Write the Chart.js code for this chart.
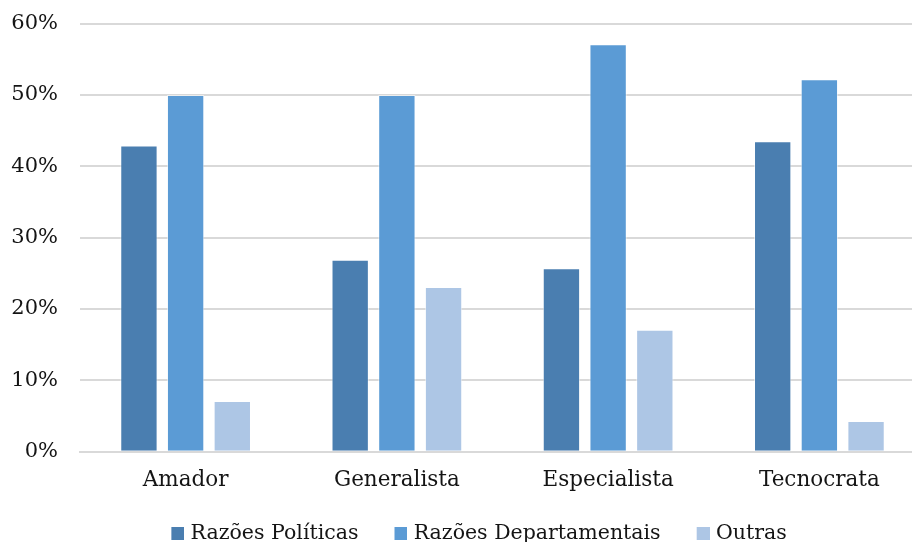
<!DOCTYPE html>
<html>
<head>
<meta charset="utf-8">
<script src="https://cdn.jsdelivr.net/npm/chart.js@4/dist/chart.umd.min.js"></script>
<style>
  html, body { margin: 0; padding: 0; background: #fff; overflow: hidden; }
  #wrap { width: 912px; height: 542px; overflow: hidden; position: relative; }
  canvas { display: block; margin-top: -11px; }
</style>
</head>
<body>
<div id="wrap"><canvas id="c" width="925" height="565"></canvas></div>
<script>
// Perfil do dirigente
const categories = ['Amador', 'Generalista', 'Especialista', 'Tecnocrata'];
// Motivo da nomeação (% por perfil)
const razoesPoliticas = [42.9, 26.9, 25.7, 43.5];
const razoesDepartamentais = [50.0, 50.0, 57.1, 52.2];
const outras = [7.1, 23.1, 17.1, 4.3];
const yTicks = [0, 10, 20, 30, 40, 50, 60];

const COLORS = ['#4a7eb0', '#5b9bd5', '#adc6e5'];
const FAMILY = '"DejaVu Serif", "Liberation Serif", serif';
const TEXT = '#141414';

// Legend swatch: a square on the right of a wider transparent tile,
// so the items get more room between them than the vertical padding.
const SW = 13, SW_EXTRA = 4, SW_BOX = 31;
function swatch(color) {
  const c = document.createElement('canvas');
  c.width = SW_BOX + 2 * SW_EXTRA;
  c.height = SW;
  const g = c.getContext('2d');
  g.fillStyle = color;
  g.fillRect(c.width - SW, 0, SW, SW);
  return c;
}
const swatches = COLORS.map(swatch);

const ds = (label, data, color) => ({
  label, data,
  backgroundColor: color,
  borderColor: 'rgba(255,255,255,0.55)',
  borderWidth: 1,
  categoryPercentage: 0.663,
  barPercentage: 0.8
});

new Chart(document.getElementById('c'), {
  type: 'bar',
  data: {
    labels: categories,
    datasets: [
      ds('Razões Políticas', razoesPoliticas, COLORS[0]),
      ds('Razões Departamentais', razoesDepartamentais, COLORS[1]),
      ds('Outras', outras, COLORS[2])
    ]
  },
  options: {
    responsive: false,
    animation: false,
    devicePixelRatio: 1,
    layout: { padding: { left: 11, right: 0, top: 1, bottom: 0 } },
    plugins: {
      tooltip: { enabled: false },
      legend: {
        position: 'bottom',
        labels: {
          font: { family: FAMILY, size: 20.5 }, color: TEXT,
          usePointStyle: true,
          pointStyleWidth: SW_BOX,
          boxHeight: SW,
          padding: 14,
          generateLabels: chart =>
            Chart.defaults.plugins.legend.labels.generateLabels(chart)
              .map((item, i) => Object.assign(item, { pointStyle: swatches[i] }))
        }
      }
    },
    scales: {
      x: {
        grid: { display: false, drawTicks: false },
        border: { color: '#d9d9d9', width: 2 },
        ticks: { font: { family: FAMILY, size: 21.5 }, color: TEXT, padding: 16 }
      },
      y: {
        min: 0, max: 60,
        afterBuildTicks: s => { s.ticks = yTicks.map(v => ({ value: v })); },
        afterFit: s => { s.width = 69; },
        grid: { color: '#d9d9d9', lineWidth: 2, drawTicks: false },
        border: { display: false },
        ticks: { font: { family: FAMILY, size: 21 }, color: TEXT, padding: 22, callback: v => v + '%' }
      }
    }
  }
});
</script>
</body>
</html>
